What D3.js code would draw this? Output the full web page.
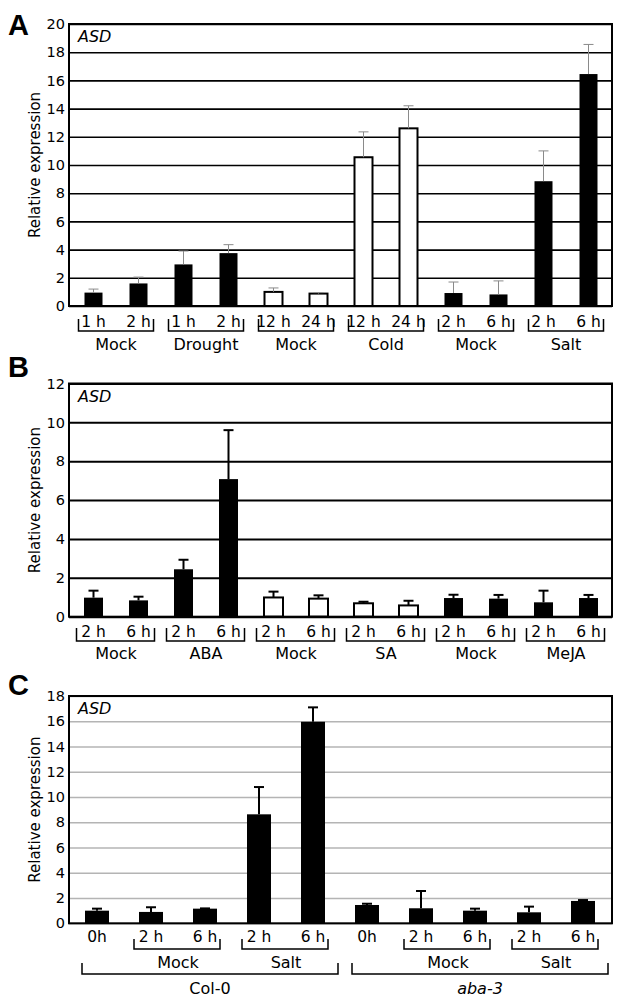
<!DOCTYPE html>
<html>
<head>
<meta charset="utf-8">
<script src="https://cdn.jsdelivr.net/npm/d3@7"></script>
<style>
  body { margin: 0; background: white; }
  text { font-family: "DejaVu Sans", Verdana, sans-serif; fill: black; }
</style>
</head>
<body>
<script>
// panel A: abiotic stress
var aLabels = ["1 h","2 h","1 h","2 h","12 h","24 h","12 h","24 h","2 h","6 h","2 h","6 h"];
var aValues = [0.95, 1.6, 2.95, 3.75, 1.0, 0.88, 10.55, 12.6, 0.92, 0.82, 8.85, 16.45];
var aErrors = [0.25, 0.45, 0.95, 0.6, 0.28, 0.07, 1.8, 1.6, 0.78, 0.96, 2.15, 2.1];
var aOpen   = [false,false,false,false,true,true,true,true,false,false,false,false];
var aGroups = ["Mock","Drought","Mock","Cold","Mock","Salt"];
var aTicks  = [0,2,4,6,8,10,12,14,16,18,20];

// panel B: hormones
var bLabels = ["2 h","6 h","2 h","6 h","2 h","6 h","2 h","6 h","2 h","6 h","2 h","6 h"];
var bValues = [0.98, 0.84, 2.44, 7.08, 0.99, 0.93, 0.69, 0.58, 0.96, 0.93, 0.74, 0.96];
var bErrors = [0.36, 0.19, 0.49, 2.52, 0.3, 0.17, 0.08, 0.24, 0.17, 0.19, 0.6, 0.16];
var bOpen   = [false,false,false,false,true,true,true,true,false,false,false,false];
var bGroups = ["Mock","ABA","Mock","SA","Mock","MeJA"];
var bTicks  = [0,2,4,6,8,10,12];

// panel C: Col-0 vs aba-3
var cLabels = ["0h","2 h","6 h","2 h","6 h","0h","2 h","6 h","2 h","6 h"];
var cValues = [1.0, 0.9, 1.16, 8.63, 15.96, 1.45, 1.19, 1.0, 0.87, 1.77];
var cErrors = [0.16, 0.37, 0.02, 2.16, 1.14, 0.1, 1.37, 0.16, 0.45, 0.07];
var cSubGroups = [{name:"Mock", from:1, to:2}, {name:"Salt", from:3, to:4},
                  {name:"Mock", from:6, to:7}, {name:"Salt", from:8, to:9}];
var cLines  = [{name:"Col-0", from:0, to:4, italic:false}, {name:"aba-3", from:5, to:9, italic:true}];
var cTicks  = [0,2,4,6,8,10,12,14,16,18];

var svg = d3.select("body").append("svg")
            .attr("width", 621).attr("height", 1001);

var left = 69, right = 612;

function drawPanel(p) {
    var g = svg.append("g");
    var y = d3.scaleLinear().domain([0, p.max]).range([p.bottom, p.top]);
    var x = d3.scalePoint().domain(d3.range(p.values.length))
              .range(p.xRange).padding(0.5);

    // gridlines + tick labels
    var axis = g.append("g").attr("transform", "translate(" + left + ",0)")
        .call(d3.axisLeft(y).tickValues(p.ticks).tickSizeInner(-(right - left))
              .tickSizeOuter(0).tickPadding(4));
    axis.select(".domain").remove();
    axis.selectAll(".tick line").attr("stroke", p.gridColor).attr("stroke-width", p.gridWidth);
    axis.selectAll(".tick text").style("font-size", "14.5px")
        .style("font-family", "'DejaVu Sans', sans-serif").attr("fill", "black");

    g.append("text").text("Relative expression")
        .attr("transform", "translate(40," + ((p.top + p.bottom) / 2) + ") rotate(-90)")
        .attr("text-anchor", "middle").style("font-size", "15px");

    g.append("text").text("ASD").attr("x", 78).attr("y", p.top + 18)
        .style("font-style", "italic").style("font-size", "16px");

    g.append("text").text(p.letter).attr("x", 8).attr("y", p.letterY)
        .style("font-family", "'Liberation Sans', Arial, sans-serif")
        .style("font-weight", "bold").style("font-size", "29px");

    // bars
    g.append("g").selectAll("rect").data(p.values).enter().append("rect")
        .attr("x", function(d, i){ return x(i) - p.barW / 2; })
        .attr("y", function(d){ return y(d); })
        .attr("width", p.barW)
        .attr("height", function(d){ return y(0) - y(d); })
        .attr("fill", function(d, i){ return p.open && p.open[i] ? "white" : "black"; })
        .attr("stroke", "black")
        .attr("stroke-width", function(d, i){ return p.open && p.open[i] ? 2 : 0; });

    // error bars
    var err = g.append("g").attr("stroke", p.errColor).attr("stroke-width", p.errWidth);
    p.values.forEach(function(v, i) {
        var top = y(v + p.errors[i]);
        err.append("line").attr("x1", x(i)).attr("x2", x(i)).attr("y1", y(v)).attr("y2", top);
        err.append("line").attr("x1", x(i) - p.capW / 2).attr("x2", x(i) + p.capW / 2)
            .attr("y1", top).attr("y2", top);
    });

    // frame
    g.append("rect").attr("x", left).attr("y", p.top)
        .attr("width", right - left).attr("height", p.bottom - p.top)
        .attr("fill", "none").attr("stroke", "black").attr("stroke-width", 2);

    // sample labels
    g.append("g").selectAll("text").data(p.labels).enter().append("text")
        .text(function(d){ return d; })
        .attr("x", function(d, i){ return x(i); })
        .attr("y", p.labelY)
        .attr("text-anchor", "middle").style("font-size", "15.5px");

    return x;
}

function bracket(g, x1, x2, yTop, yBot) {
    g.append("path")
        .attr("d", "M" + x1 + "," + yTop + " V" + yBot + " H" + x2 + " V" + yTop)
        .attr("fill", "none").attr("stroke", "black").attr("stroke-width", 1.5);
}

function pairGroups(x, groups, yTop, yBot, textY, lo, hi) {
    var g = svg.append("g");
    groups.forEach(function(name, k) {
        var a = x(2 * k), b = x(2 * k + 1);
        bracket(g, a - lo, b + hi, yTop, yBot);
        g.append("text").text(name).attr("x", (a + b) / 2).attr("y", textY)
            .attr("text-anchor", "middle").style("font-size", "16px");
    });
}

var xA = drawPanel({letter:"A", letterY:35, values:aValues, errors:aErrors, open:aOpen,
    labels:aLabels, ticks:aTicks, max:20, top:24, bottom:306, xRange:[71, 611],
    barW:18, capW:10, errColor:"#8a8a8a", errWidth:1, gridColor:"black", gridWidth:1.6,
    labelY:327});
pairGroups(xA, aGroups, 319, 331, 350, 15, 15);

var xB = drawPanel({letter:"B", letterY:377, values:bValues, errors:bErrors, open:bOpen,
    labels:bLabels, ticks:bTicks, max:12, top:383.5, bottom:616.7, xRange:[71, 611],
    barW:19, capW:10, errColor:"black", errWidth:2, gridColor:"black", gridWidth:2,
    labelY:637});
pairGroups(xB, bGroups, 628, 641, 659, 17, 16);

var xC = drawPanel({letter:"C", letterY:695, values:cValues, errors:cErrors, open:null,
    labels:cLabels, ticks:cTicks, max:18, top:696, bottom:923.3, xRange:[70, 610],
    barW:24, capW:10, errColor:"black", errWidth:2, gridColor:"#b4b4b4", gridWidth:1.5,
    labelY:942});

var gC = svg.append("g");
cSubGroups.forEach(function(s) {
    var a = xC(s.from), b = xC(s.to);
    bracket(gC, a - 17, b + 15, 939, 949);
    gC.append("text").text(s.name).attr("x", (a + b) / 2).attr("y", 968)
        .attr("text-anchor", "middle").style("font-size", "16px");
});
cLines.forEach(function(s) {
    var a = xC(s.from), b = xC(s.to);
    bracket(gC, a - 15, b + 25, 963, 974);
    gC.append("text").text(s.name).attr("x", (a - 15 + b + 25) / 2).attr("y", 994)
        .attr("text-anchor", "middle").style("font-size", "16px")
        .style("font-style", s.italic ? "italic" : "normal");
});
</script>
</body>
</html>
